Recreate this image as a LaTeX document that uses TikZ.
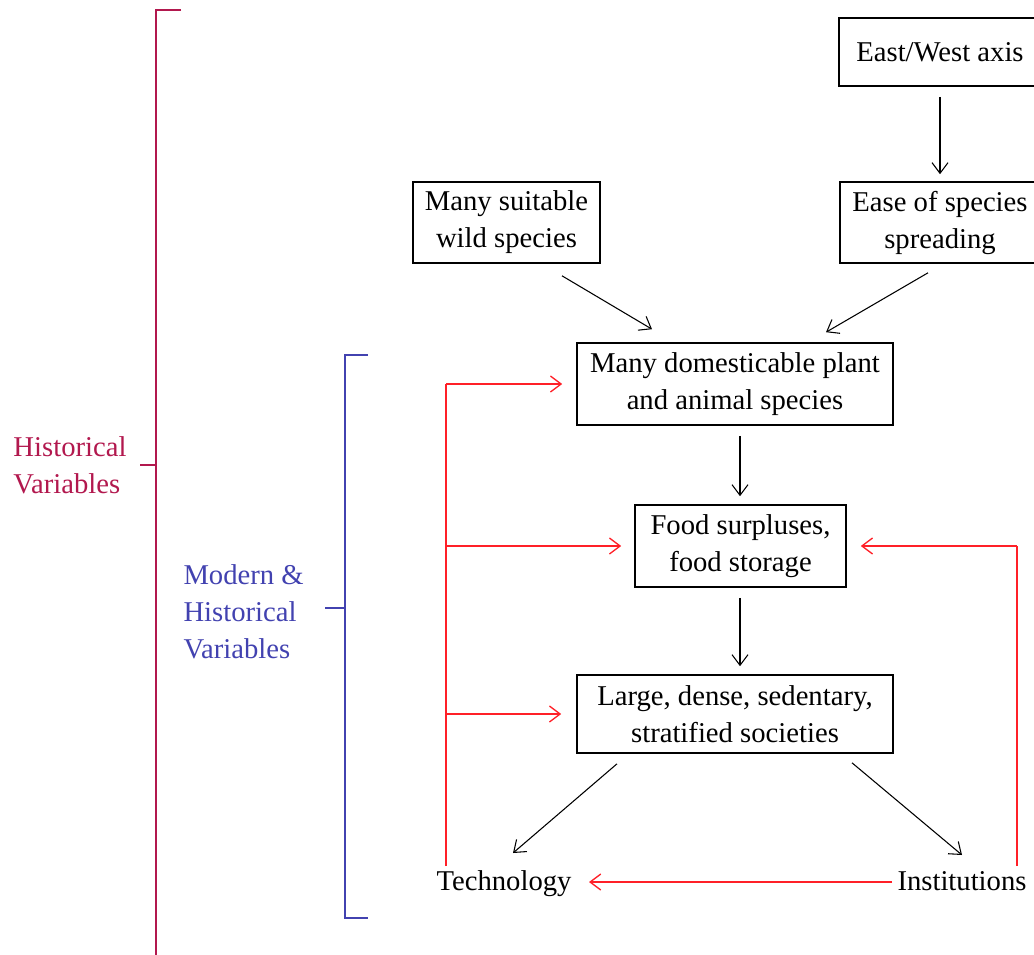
\documentclass[tikz,border=0pt]{standalone}
\usepackage{fontspec}
\setmainfont{Liberation Serif}
\usetikzlibrary{arrows.meta,calc}

\definecolor{histred}{RGB}{178,24,78}
\definecolor{modblue}{RGB}{66,66,176}
\definecolor{linkred}{RGB}{255,32,40}

\tikzset{every picture/.style={line width=0.75pt}}
\tikzset{
txt/.style={inner sep=0pt, align=center, font=\fontsize{21.5}{27.75}\selectfont},
factor/.style 2 args={txt, draw, line width=1.2pt, minimum width=#1*0.75pt, minimum height=#2*0.75pt},
blackarrow/.style={-{Straight Barb[length=8pt,width=12pt]}, line width=0.8pt},
redarrow/.style={linkred, -{Straight Barb[length=8pt,width=12pt]}, line width=1pt},
redline/.style={linkred, line width=1pt}}

\begin{document}
\begin{tikzpicture}[x=0.75pt,y=0.75pt,yscale=-1,xscale=1]
\useasboundingbox (0,0) rectangle (1034,954);

%Boxes
\node (axis) [factor={202}{68}] at (940,52) {East/West axis};
\node (spread) [factor={200}{81}] at (940,222.5) {Ease of species\\spreading};
\node (wild) [factor={187}{81}] at (506.5,222.5) {Many suitable\\wild species};
\node (dom) [factor={316}{82}] at (735,384) {Many domesticable plant\\and animal species};
\node (food) [factor={211}{82}] at (740.5,546) {Food surpluses,\\food storage};
\node (soc) [factor={316}{78}] at (735,714) {Large, dense, sedentary,\\stratified societies};

% Text Node
\node (tech) [txt, anchor=base] at (504,890) {Technology};
% Text Node
\node (inst) [txt, anchor=base] at (962,890) {Institutions};

%Black arrows
\draw [blackarrow] ($(axis.south)+(0,10)$) -- ($(spread.north)+(0,-7)$);
\draw [blackarrow] ($(wild.south)+(55.5,12)$) -- ($(dom.north)+(-83,-13)$);
\draw [blackarrow] ($(spread.south)+(-12,9)$) -- ($(dom.north)+(91,-10)$);
\draw [blackarrow] ($(dom.south)+(5,10)$) -- ($(food.north)+(-0.5,-8)$);
\draw [blackarrow] ($(food.south)+(-0.5,10)$) -- ($(soc.north)+(5,-8)$);
\draw [blackarrow] ($(soc.south)+(-118,10)$) -- (513,853);
\draw [blackarrow] ($(soc.south)+(117,9)$) -- (962,855);

%Red feedback links
\coordinate (techup) at (446,866);
\coordinate (instup) at (1017,866);
\draw [redline] (techup) -- (techup |- dom.west);
\draw [redarrow] (techup |- dom.west) -- ($(dom.west)+(-14,0)$);
\draw [redarrow] (techup |- food.west) -- ($(food.west)+(-13,0)$);
\draw [redarrow] (techup |- soc.west) -- ($(soc.west)+(-15,0)$);
\draw [redline] (instup) -- (instup |- food.east);
\draw [redarrow] (instup |- food.east) -- ($(food.east)+(14,0)$);
\draw [redarrow] (892,882) -- (589,882);

%Historical bracket
\coordinate (htop) at (156,10);
\draw [histred, line width=1.2pt] ($(htop)+(25,0)$) -- (htop) -- (156,960);
\draw [histred, line width=1.2pt] (140,465) -- (156,465);
% Text Node
\node (hist) [txt, histred, anchor=west, align=left] at (13,465) {Historical\\Variables};

%Modern bracket
\draw [modblue, line width=1.2pt] (368,355) -- (345,355) -- (345,918) -- (368,918);
\draw [modblue, line width=1.2pt] (325,608) -- (345,608);
% Text Node
\node (modern) [txt, modblue, anchor=west, align=left] at (183,612) {Modern \&\\Historical\\Variables};

\end{tikzpicture}
\end{document}
